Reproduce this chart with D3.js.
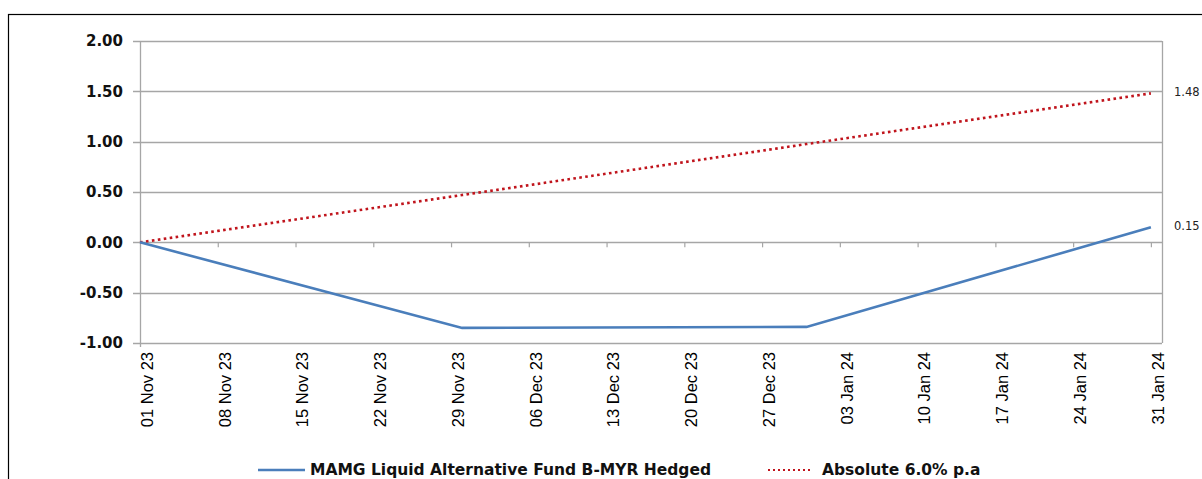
<!DOCTYPE html>
<html>
<head>
<meta charset="utf-8">
<script src="https://cdn.jsdelivr.net/npm/d3@7"></script>
<style>
  body { margin: 0; background: #fff; }
</style>
</head>
<body>
<script>
// Data
const fundDates = ["2023-11-01", "2023-11-30", "2023-12-31", "2024-01-31"];
const fundValues = [0, -0.85, -0.84, 0.15];
const absDates = ["2023-11-01", "2023-11-30", "2023-12-31", "2024-01-31"];
const absValues = [0, 0.47, 0.976, 1.48];
const yTicks = [2, 1.5, 1, 0.5, 0, -0.5, -1];
const xTickDates = ["2023-11-01", "2023-11-08", "2023-11-15", "2023-11-22", "2023-11-29",
  "2023-12-06", "2023-12-13", "2023-12-20", "2023-12-27", "2024-01-03",
  "2024-01-10", "2024-01-17", "2024-01-24", "2024-01-31"];
const seriesNames = ["MAMG Liquid Alternative Fund B-MYR Hedged", "Absolute 6.0% p.a"];

const parse = d3.utcParse("%Y-%m-%d");
const fmtX = d3.utcFormat("%d %b %y");
// plain hyphen for negatives, like the original
const fmtY = d => d3.format(".2f")(d).replace("\u2212", "-");

const width = 1202, height = 479;
const plotLeft = 140, plotRight = 1162, plotTop = 41, plotBottom = 343;

const svg = d3.select("body").append("svg")
  .attr("width", width).attr("height", height);

// outer frame
svg.append("rect")
  .attr("x", 8.5).attr("y", 14.5)
  .attr("width", 1300).attr("height", 600)
  .attr("fill", "none").attr("stroke", "#000").attr("stroke-width", 1.2);

const x = d3.scaleUtc()
  .domain([parse("2023-11-01"), parse("2024-02-01")])
  .range([plotLeft, plotRight]);

const y = d3.scaleLinear()
  .domain([-1, 2])
  .range([plotBottom, plotTop]);

// gridlines
svg.append("g")
  .selectAll("line")
  .data(yTicks)
  .enter().append("line")
  .attr("x1", plotLeft - 7).attr("x2", plotRight)
  .attr("y1", d => Math.round(y(d)) + 0.5).attr("y2", d => Math.round(y(d)) + 0.5)
  .attr("stroke", "#a6a6a6").attr("stroke-width", 1.3);

// left and right plot lines
svg.append("line")
  .attr("x1", plotLeft + 0.5).attr("x2", plotLeft + 0.5)
  .attr("y1", plotTop).attr("y2", plotBottom + 4)
  .attr("stroke", "#a6a6a6").attr("stroke-width", 1.3);
svg.append("line")
  .attr("x1", plotRight + 0.5).attr("x2", plotRight + 0.5)
  .attr("y1", plotTop).attr("y2", plotBottom)
  .attr("stroke", "#a6a6a6").attr("stroke-width", 1.3);

// y labels
svg.append("g")
  .selectAll("text")
  .data(yTicks)
  .enter().append("text")
  .attr("x", 123).attr("y", d => y(d))
  .attr("dy", "0.36em")
  .attr("text-anchor", "end")
  .style("font-family", "DejaVu Sans, Verdana, sans-serif")
  .style("font-weight", "bold")
  .style("font-size", "15px")
  .attr("fill", "#111")
  .text(fmtY);

// x axis ticks at zero line
svg.append("g")
  .selectAll("line")
  .data(xTickDates.slice(1))
  .enter().append("line")
  .attr("x1", d => x(parse(d)) + 0.5).attr("x2", d => x(parse(d)) + 0.5)
  .attr("y1", y(0)).attr("y2", y(0) + 5)
  .attr("stroke", "#a6a6a6").attr("stroke-width", 1.2);

// x labels, rotated
svg.append("g")
  .selectAll("text")
  .data(xTickDates)
  .enter().append("text")
  .attr("transform", d => "translate(" + (x(parse(d)) + 7) + "," + 352 + ") rotate(-90)")
  .attr("dy", "0.35em")
  .attr("text-anchor", "end")
  .style("font-family", "Liberation Sans, Arial, sans-serif")
  .style("font-size", "16.5px")
  .attr("fill", "#000")
  .text(d => fmtX(parse(d)));

const line = d3.line()
  .x(d => x(d[0]))
  .y(d => y(d[1]));

const fund = fundDates.map((d, i) => [parse(d), fundValues[i]]);
const abs = absDates.map((d, i) => [parse(d), absValues[i]]);

svg.append("path")
  .datum(abs)
  .attr("d", line)
  .attr("fill", "none")
  .attr("stroke", "#c0141c")
  .attr("stroke-width", 2.6)
  .attr("stroke-dasharray", "2.6,3.4");

svg.append("path")
  .datum(fund)
  .attr("d", line)
  .attr("fill", "none")
  .attr("stroke", "#4a7ebb")
  .attr("stroke-width", 2.6);

// end value labels
const ends = [abs[abs.length - 1], fund[fund.length - 1]];
svg.append("g")
  .selectAll("text")
  .data(ends)
  .enter().append("text")
  .attr("x", 1174).attr("y", d => y(d[1]) - 1)
  .attr("dy", "0.35em")
  .style("font-family", "DejaVu Sans, Verdana, sans-serif")
  .style("font-size", "11.5px")
  .attr("fill", "#222")
  .text(d => fmtY(d[1]));

// legend
const legend = svg.append("g");
legend.append("line")
  .attr("x1", 258).attr("x2", 305).attr("y1", 470).attr("y2", 470)
  .attr("stroke", "#4a7ebb").attr("stroke-width", 2.6);
legend.append("text")
  .attr("x", 310).attr("y", 470).attr("dy", "0.35em")
  .style("font-family", "DejaVu Sans, Tahoma, sans-serif")
  .style("font-weight", "bold")
  .style("font-size", "15.5px")
  .attr("fill", "#111")
  .text(seriesNames[0]);
legend.append("line")
  .attr("x1", 768).attr("x2", 812).attr("y1", 470).attr("y2", 470)
  .attr("stroke", "#c0141c").attr("stroke-width", 2)
  .attr("stroke-dasharray", "2,3");
legend.append("text")
  .attr("x", 822).attr("y", 470).attr("dy", "0.35em")
  .style("font-family", "DejaVu Sans, Tahoma, sans-serif")
  .style("font-weight", "bold")
  .style("font-size", "15.5px")
  .attr("fill", "#111")
  .text(seriesNames[1]);
</script>
</body>
</html>
